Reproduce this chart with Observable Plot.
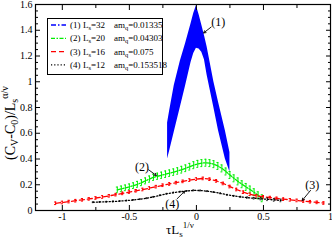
<!DOCTYPE html>
<html><head><meta charset="utf-8">
<script src="https://cdn.jsdelivr.net/npm/d3@7"></script>
<script src="https://cdn.jsdelivr.net/npm/@observablehq/plot@0.6"></script>
<style>
body{margin:0;background:#fff;}
#chart{width:332px;height:241px;}
</style></head><body><div id="chart"></div>
<script>
// ---- ticks ----
const xMajor = [-1, -0.5, 0, 0.5, 1];
const xMinor = [-0.75, -0.25, 0.25, 0.75];
const yMajor = [0, 0.2, 0.4, 0.6, 0.8, 1, 1.2, 1.4, 1.6];
const yMinor = [0.05,0.1,0.15,0.25,0.3,0.35,0.45,0.5,0.55,0.65,0.7,0.75,0.85,0.9,0.95,1.05,1.1,1.15,1.25,1.3,1.35,1.45,1.5,1.55];

// ---- series (1) Ls=32: band of error bars ----
const t1  = [-0.215,-0.2,-0.165,-0.12,-0.08,-0.04,-0.02,0,0.02,0.04,0.06,0.08,0.13,0.165,0.216,0.25];
const hi1 = [0.68,0.77,0.97,1.16,1.30,1.45,1.53,1.59,1.52,1.44,1.36,1.27,1.00,0.84,0.62,0.45];
const lo1 = [0.40,0.46,0.61,0.80,0.97,1.15,1.22,1.26,1.255,1.23,1.17,1.05,0.80,0.62,0.40,0.30];

// ---- series (2) Ls=20 ----
const t2 = [-0.59,-0.56,-0.53,-0.5,-0.47,-0.44,-0.41,-0.38,-0.35,-0.32,-0.29,-0.26,-0.23,-0.2,-0.17,-0.14,-0.11,-0.08,-0.05,-0.02,0.01,0.04,0.07,0.1,0.13,0.16,0.19,0.22,0.25,0.28,0.31,0.34,0.37,0.4,0.43,0.46,0.49];
const y2 = [0.160,0.168,0.176,0.184,0.193,0.203,0.216,0.230,0.244,0.258,0.266,0.274,0.282,0.290,0.298,0.307,0.317,0.328,0.340,0.352,0.362,0.368,0.371,0.368,0.360,0.346,0.327,0.303,0.276,0.250,0.226,0.204,0.183,0.163,0.142,0.118,0.095];
const e2 = [0.022,0.022,0.022,0.022,0.022,0.023,0.023,0.023,0.024,0.024,0.024,0.024,0.025,0.025,0.025,0.025,0.026,0.026,0.026,0.027,0.027,0.027,0.027,0.027,0.027,0.027,0.027,0.027,0.027,0.027,0.027,0.027,0.027,0.027,0.027,0.027,0.027];

// ---- series (3) Ls=16 ----
const t3 = [-1.05,-1,-0.95,-0.9,-0.85,-0.8,-0.75,-0.7,-0.65,-0.6,-0.55,-0.5,-0.45,-0.4,-0.35,-0.3,-0.25,-0.2,-0.15,-0.1,-0.05,0,0.05,0.1,0.15,0.2,0.25,0.3,0.35,0.4,0.45,0.5,0.55,0.6,0.65,0.7,0.75,0.8,0.85,0.9,0.95];
const y3 = [0.056,0.062,0.069,0.076,0.083,0.090,0.097,0.105,0.114,0.123,0.133,0.143,0.153,0.163,0.174,0.185,0.196,0.206,0.216,0.226,0.236,0.244,0.249,0.243,0.230,0.210,0.186,0.163,0.142,0.126,0.114,0.106,0.100,0.094,0.088,0.083,0.078,0.073,0.068,0.063,0.058];
const e3 = [0.010,0.010,0.010,0.010,0.010,0.010,0.010,0.010,0.010,0.010,0.010,0.010,0.010,0.010,0.010,0.010,0.010,0.010,0.010,0.010,0.010,0.010,0.010,0.010,0.010,0.010,0.010,0.010,0.010,0.010,0.010,0.010,0.010,0.010,0.010,0.010,0.010,0.010,0.010,0.010,0.010];

// ---- series (4) Ls=12 ----
const t4 = [-0.77,-0.72,-0.67,-0.62,-0.57,-0.52,-0.47,-0.42,-0.37,-0.32,-0.27,-0.22,-0.17,-0.12,-0.07,-0.02,0.03,0.08,0.13,0.18,0.23,0.28,0.33,0.38,0.43,0.48,0.53,0.58,0.63];
const y4 = [0.064,0.066,0.068,0.070,0.073,0.077,0.082,0.088,0.095,0.106,0.118,0.130,0.139,0.146,0.152,0.156,0.155,0.150,0.143,0.133,0.122,0.113,0.106,0.100,0.095,0.091,0.087,0.082,0.078];
const e4 = [0.003,0.003,0.003,0.003,0.003,0.003,0.003,0.003,0.003,0.003,0.003,0.003,0.003,0.003,0.003,0.003,0.003,0.003,0.003,0.003,0.003,0.004,0.004,0.005,0.006,0.008,0.010,0.010,0.010];

// ---- legend ----
const legendNum = ["(1)", "(2)", "(3)", "(4)"];
const legendL = ["32", "20", "16", "12"];
const legendAm = ["0.01335", "0.04303", "0.075", "0.153518"];
const colors = ["#0000ff", "#00ee00", "#ff0000", "#000000"];
const dashes = ["5,2,1.5,2", "4,1.5,1.5,1.5", "5,3", "1.2,2"];

// ---- annotations (data coordinates) ----
const annText = ["(1)", "(2)", "(3)", "(4)"];
const annX = [0.162, -0.405, 0.863, -0.181];
const annY = [1.464, 0.337, 0.194, 0.052];
const arrX1 = [0.110, -0.356, 0.851, -0.144];
const arrY1 = [1.425, 0.316, 0.156, 0.091];
const arrX2 = [0.054, -0.299, 0.789, -0.087];
const arrY2 = [1.379, 0.272, 0.078, 0.150];

const s1 = t1.map((t, i) => ({t, lo: lo1[i], hi: hi1[i]}));
const mk = (ts, ys, es) => ts.map((t, i) => ({t, y: ys[i], e: es[i]}));
const s2 = mk(t2, y2, e2), s3 = mk(t3, y3, e3), s4 = mk(t4, y4, e4);
const ann = annText.map((s, i) => ({s, x: annX[i], y: annY[i], x1: arrX1[i], y1: arrY1[i], x2: arrX2[i], y2: arrY2[i]}));

function errMarks(data, color, dash, capW, width) {
  return [
    Plot.ruleX(data, {x: "t", y1: d => d.y - d.e, y2: d => d.y + d.e, stroke: color, strokeWidth: width}),
    Plot.ruleY(data, {y: d => d.y - d.e, x1: d => d.t - capW, x2: d => d.t + capW, stroke: color, strokeWidth: width}),
    Plot.ruleY(data, {y: d => d.y + d.e, x1: d => d.t - capW, x2: d => d.t + capW, stroke: color, strokeWidth: width}),
    Plot.line(data, {x: "t", y: "y", stroke: color, strokeDasharray: dash, strokeWidth: 1.3})
  ];
}

const fmt = d => String(d);
const svg = Plot.plot({
  width: 332, height: 241,
  marginLeft: 35, marginRight: 2, marginTop: 4, marginBottom: 31,
  style: {fontFamily: "'Liberation Serif', serif", fontSize: "10px", background: "#fff", color: "#000"},
  x: {domain: [-1.2, 1.0], label: null},
  y: {domain: [0, 1.6], label: null},
  marks: [
    Plot.areaY(s1, {x: "t", y1: "lo", y2: "hi", fill: colors[0]}),
    ...errMarks(s2, colors[1], dashes[1], 0.007, 1),
    ...errMarks(s3, colors[2], dashes[2], 0.008, 1),
    ...errMarks(s4, colors[3], dashes[3], 0.006, 0.8),
    Plot.arrow(ann, {x1: "x1", y1: "y1", x2: "x2", y2: "y2", stroke: "#000", strokeWidth: 0.9, headLength: 4}),
    Plot.text(ann, {x: "x", y: "y", text: "s", fontSize: 12, fill: "#000"}),
    Plot.axisX(xMajor, {anchor: "bottom", tickSize: -5, tickPadding: 7, tickFormat: fmt, label: null}),
    Plot.axisX(xMinor, {anchor: "bottom", tickSize: -3, tickFormat: () => "", label: null}),
    Plot.axisX(xMajor, {anchor: "top", tickSize: -5, tickFormat: () => "", label: null}),
    Plot.axisX(xMinor, {anchor: "top", tickSize: -3, tickFormat: () => "", label: null}),
    Plot.axisY(yMajor, {anchor: "left", tickSize: -5, tickPadding: 8, tickFormat: fmt, label: null}),
    Plot.axisY(yMinor, {anchor: "left", tickSize: -3, tickFormat: () => "", label: null}),
    Plot.axisY(yMajor, {anchor: "right", tickSize: -5, tickFormat: () => "", label: null}),
    Plot.axisY(yMinor, {anchor: "right", tickSize: -3, tickFormat: () => "", label: null}),
    Plot.frame({stroke: "#000", strokeWidth: 1.2})
  ]
});
document.getElementById("chart").appendChild(svg);

const S = d3.select(svg);
const FF = "'Liberation Serif', serif";
// y label
const yl = S.append("text").attr("transform", "translate(15,160) rotate(-90)")
  .attr("text-anchor", "start").attr("font-family", FF).attr("font-size", 14).attr("fill", "#000");
yl.append("tspan").text("(C");
yl.append("tspan").attr("dy", 3).attr("font-size", 10).text("V");
yl.append("tspan").attr("dy", -3).text("-C");
yl.append("tspan").attr("dy", 3).attr("font-size", 10).text("0");
yl.append("tspan").attr("dy", -3).text(")/L");
yl.append("tspan").attr("dy", 3).attr("font-size", 10).text("s");
yl.append("tspan").attr("dy", -10).attr("font-size", 10).text("α/ν");
// x label
const xl = S.append("text").attr("x", 166).attr("y", 234).attr("text-anchor", "start")
  .attr("font-family", FF).attr("font-size", 13).attr("fill", "#000");
xl.append("tspan").text("τL");
xl.append("tspan").attr("dy", 3).attr("font-size", 9).text("s");
xl.append("tspan").attr("dy", -9).attr("font-size", 9).text("1/ν");

// legend
const lg = S.append("g").attr("font-family", FF).attr("font-size", 9).attr("fill", "#000").attr("text-anchor", "start");
lg.append("rect").attr("x", 47.5).attr("y", 18.5).attr("width", 115).attr("height", 56)
  .attr("fill", "#fff").attr("stroke", "#000").attr("stroke-width", 1);
legendNum.forEach((n, i) => {
  const cy = 25 + i * 13.3;
  lg.append("line").attr("x1", 51).attr("x2", 66).attr("y1", cy).attr("y2", cy)
    .attr("stroke", colors[i]).attr("stroke-width", 1.3).attr("stroke-dasharray", dashes[i]);
  lg.append("text").attr("x", 70).attr("y", cy + 3).text(n);
  const t = lg.append("text").attr("x", 83).attr("y", cy + 3);
  t.append("tspan").text("L");
  t.append("tspan").attr("dy", 2).attr("font-size", 6.5).text("s");
  t.append("tspan").attr("dy", -2).text("=" + legendL[i]);
  const a = lg.append("text").attr("x", 114).attr("y", cy + 3);
  a.append("tspan").text("am");
  a.append("tspan").attr("dy", 2).attr("font-size", 6.5).text("q");
  a.append("tspan").attr("dy", -2).text("=" + legendAm[i]);
});
</script></body></html>
